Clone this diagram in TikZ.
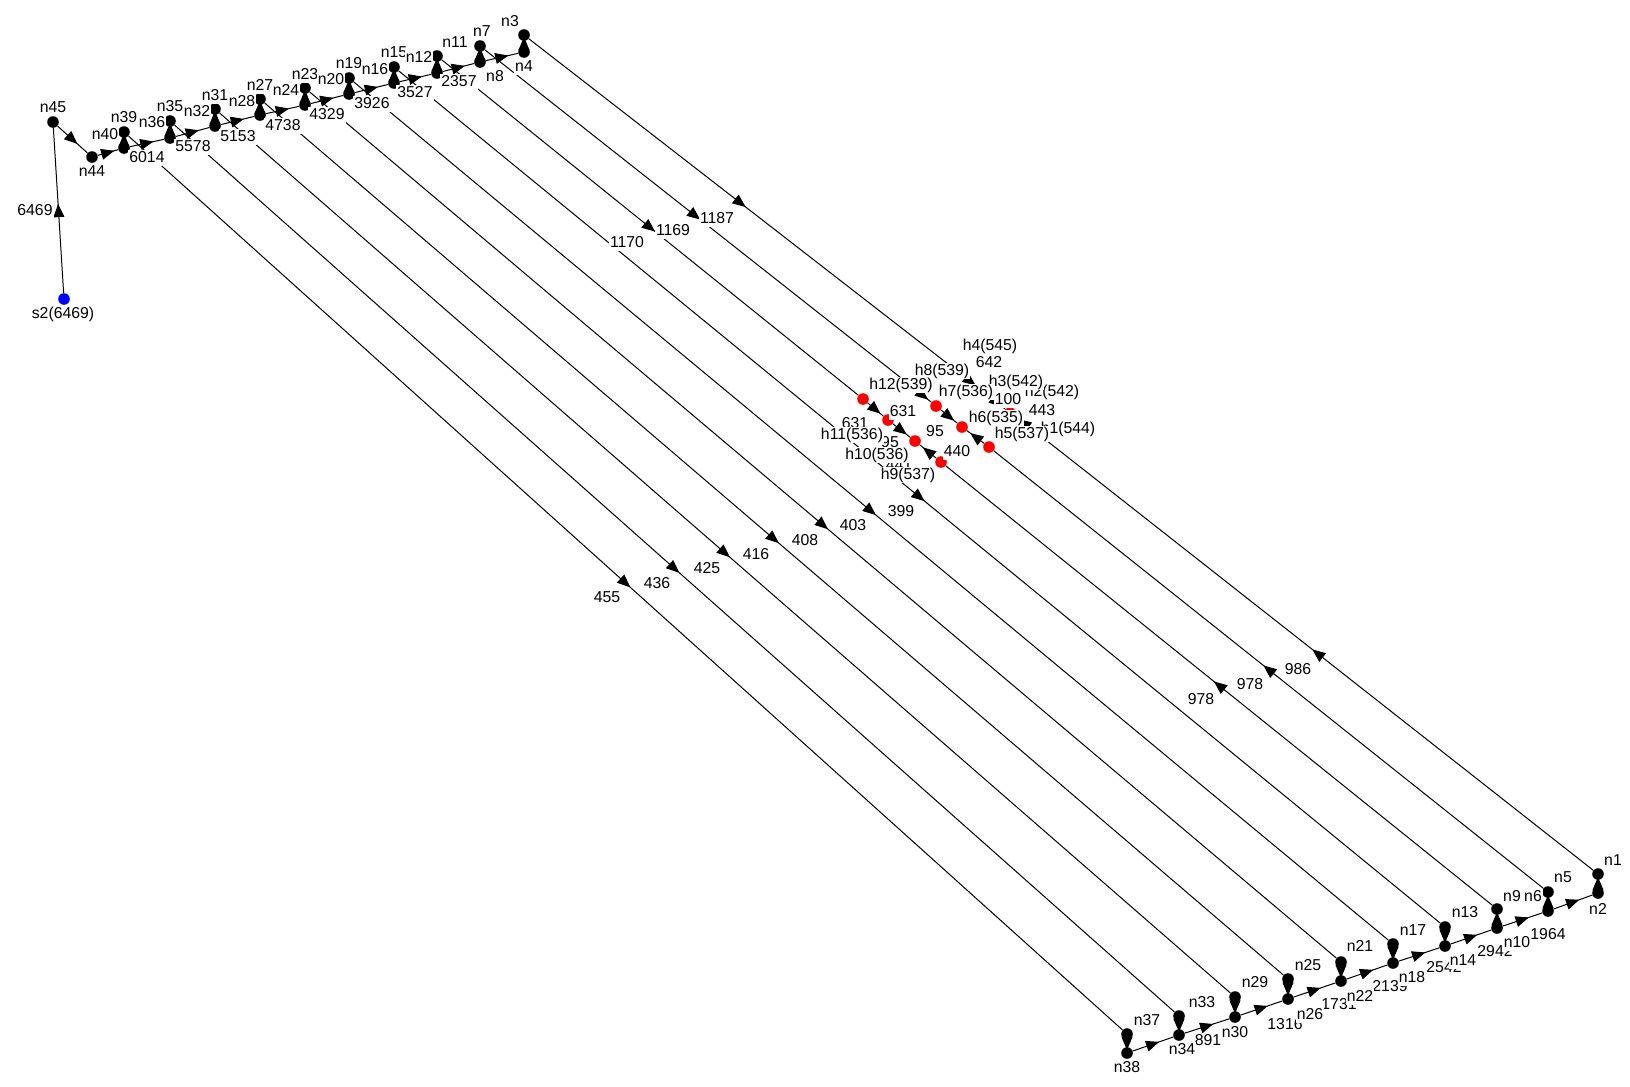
\documentclass[tikz,border=0pt]{standalone}
\usepackage{fontspec}
\setmainfont{Liberation Sans}
\usetikzlibrary{arrows.meta,decorations.markings}

\begin{document}
\begin{tikzpicture}[
    x=0.5pt,
    y=-0.5pt,
    line cap=round,
    line join=round,
    junc/.style={circle, fill=black, inner sep=0pt, minimum size=5.8pt},
    hyd/.style={junc, fill=red},
    src/.style={junc, fill=blue},
    flow/.style={
        line width=0.5pt,
        postaction={decorate},
        decoration={markings,
            mark=at position 0.5 with {\arrow[xshift=3.3pt]{Triangle[length=6.6pt,width=5.4pt]}}}
    },
    ntag/.style={fill=white, inner sep=0.6pt, text height=5.6pt, text depth=1.5pt,
        font=\fontsize{7.9}{9}\selectfont},
    ftag/.style={ntag}
]

\useasboundingbox (0,0) rectangle (1630,1087);

%------------------------------------------------
% Source and upper chain
%------------------------------------------------
\node[src]  (s2)  at (64,299) {};
\node[junc] (n45) at (53,122) {};
\node[junc] (n44) at (92,157) {};

\node[junc] (n40) at (124,148) {};
\node[junc] (n39) at (124,132) {};
\node[junc] (n36) at (170,138) {};
\node[junc] (n35) at (170,121) {};
\node[junc] (n32) at (215,126) {};
\node[junc] (n31) at (215,109) {};
\node[junc] (n28) at (260,115) {};
\node[junc] (n27) at (260,99) {};
\node[junc] (n24) at (305,105) {};
\node[junc] (n23) at (305,88) {};
\node[junc] (n20) at (349,94) {};
\node[junc] (n19) at (349,78) {};
\node[junc] (n16) at (394,83) {};
\node[junc] (n15) at (394,67) {};
\node[junc] (n12) at (437,73) {};
\node[junc] (n11) at (437,56) {};
\node[junc] (n8)  at (480,62) {};
\node[junc] (n7)  at (480,46) {};
\node[junc] (n4)  at (524,52) {};
\node[junc] (n3)  at (524,35) {};

%------------------------------------------------
% Lower chain
%------------------------------------------------
\node[junc] (n38) at (1127,1053) {};
\node[junc] (n37) at (1127,1034) {};
\node[junc] (n34) at (1179,1035) {};
\node[junc] (n33) at (1179,1016) {};
\node[junc] (n30) at (1235,1017) {};
\node[junc] (n29) at (1235,997) {};
\node[junc] (n26) at (1288,999) {};
\node[junc] (n25) at (1288,979) {};
\node[junc] (n22) at (1341,981) {};
\node[junc] (n21) at (1341,962) {};
\node[junc] (n18) at (1393,963) {};
\node[junc] (n17) at (1393,944) {};
\node[junc] (n14) at (1445,946) {};
\node[junc] (n13) at (1445,927) {};
\node[junc] (n10) at (1497,928) {};
\node[junc] (n9)  at (1497,909) {};
\node[junc] (n6)  at (1548,911) {};
\node[junc] (n5)  at (1548,892) {};
\node[junc] (n2)  at (1598,893) {};
\node[junc] (n1)  at (1598,874) {};

%------------------------------------------------
% Hydrants in the middle
%------------------------------------------------
\node[hyd] (h12) at (863,399) {};
\node[hyd] (h11) at (888,420) {};
\node[hyd] (h10) at (915,441) {};
\node[hyd] (h9)  at (941,462) {};
\node[hyd] (h8)  at (910,385) {};
\node[hyd] (h7)  at (936,406) {};
\node[hyd] (h6)  at (962,427) {};
\node[hyd] (h5)  at (989,447) {};
\node[hyd] (h4)  at (957,371) {};
\node[hyd] (h3)  at (984,392) {};
\node[hyd] (h2)  at (1010,413) {};
\node[hyd] (h1)  at (1037,433) {};

%------------------------------------------------
% Upper chain pipes
%------------------------------------------------
\draw[flow] (s2) -- (n45);
\draw[flow] (n45) -- (n44);
\draw[flow] (n44) -- (n40);
\draw[flow] (n40) -- (n36);
\draw[flow] (n36) -- (n32);
\draw[flow] (n32) -- (n28);
\draw[flow] (n28) -- (n24);
\draw[flow] (n24) -- (n20);
\draw[flow] (n20) -- (n16);
\draw[flow] (n16) -- (n12);
\draw[flow] (n12) -- (n8);
\draw[flow] (n8) -- (n4);

\draw[flow] (n40) -- (n39);
\draw[flow] (n36) -- (n35);
\draw[flow] (n32) -- (n31);
\draw[flow] (n28) -- (n27);
\draw[flow] (n24) -- (n23);
\draw[flow] (n20) -- (n19);
\draw[flow] (n16) -- (n15);
\draw[flow] (n12) -- (n11);
\draw[flow] (n8) -- (n7);
\draw[flow] (n4) -- (n3);

%------------------------------------------------
% Long diagonal pipes
%------------------------------------------------
\draw[flow] (n39) -- (n37);
\draw[flow] (n35) -- (n33);
\draw[flow] (n31) -- (n29);
\draw[flow] (n27) -- (n25);
\draw[flow] (n23) -- (n21);
\draw[flow] (n19) -- (n17);
\draw[flow] (n15) -- (n13);

\draw[flow] (n11) -- (h12);
\draw[flow] (n7) -- (h8);
\draw[flow] (n3) -- (h4);

\draw[flow] (n9) -- (h9);
\draw[flow] (n5) -- (h5);
\draw[flow] (n1) -- (h1);

%------------------------------------------------
% Hydrant pipes
%------------------------------------------------
\draw[flow] (h12) -- (h11);
\draw[flow] (h11) -- (h10);
\draw[flow] (h9) -- (h10);
\draw[flow] (h8) -- (h7);
\draw[flow] (h7) -- (h6);
\draw[flow] (h5) -- (h6);
\draw[flow] (h4) -- (h3);
\draw[flow] (h3) -- (h2);
\draw[flow] (h1) -- (h2);

%------------------------------------------------
% Lower chain pipes
%------------------------------------------------
\draw[flow] (n37) -- (n38);
\draw[flow] (n33) -- (n34);
\draw[flow] (n29) -- (n30);
\draw[flow] (n25) -- (n26);
\draw[flow] (n21) -- (n22);
\draw[flow] (n17) -- (n18);
\draw[flow] (n13) -- (n14);
\draw[flow] (n10) -- (n9);
\draw[flow] (n6) -- (n5);
\draw[flow] (n2) -- (n1);

\draw[flow] (n38) -- (n34);
\draw[flow] (n34) -- (n30);
\draw[flow] (n30) -- (n26);
\draw[flow] (n26) -- (n22);
\draw[flow] (n22) -- (n18);
\draw[flow] (n18) -- (n14);
\draw[flow] (n14) -- (n10);
\draw[flow] (n10) -- (n6);
\draw[flow] (n6) -- (n2);

%------------------------------------------------
% Flow values
%------------------------------------------------
\node[ftag] (q1)  at (35,211)  {6469};
\node[ftag] (q2)  at (147,158) {6014};
\node[ftag] (q3)  at (193,147) {5578};
\node[ftag] (q4)  at (238,137) {5153};
\node[ftag] (q5)  at (283,126) {4738};
\node[ftag] (q6)  at (327,115) {4329};
\node[ftag] (q7)  at (372,104) {3926};
\node[ftag] (q8)  at (415,93)  {3527};
\node[ftag] (q9)  at (459,82)  {2357};

\node[ftag] (q10) at (607,598) {455};
\node[ftag] (q11) at (657,584) {436};
\node[ftag] (q12) at (707,569) {425};
\node[ftag] (q13) at (756,555) {416};
\node[ftag] (q14) at (805,541) {408};
\node[ftag] (q15) at (853,526) {403};
\node[ftag] (q16) at (901,512) {399};

\node[ftag] (q17) at (627,243) {1170};
\node[ftag] (q18) at (673,231) {1169};
\node[ftag] (q19) at (717,219) {1187};

\node[ftag] (q20) at (1298,670) {986};
\node[ftag] (q21) at (1250,685) {978};
\node[ftag] (q22) at (1201,700) {978};

\node[ftag] (q23) at (1208,1041) {891};
\node[ftag] (q24) at (1285,1025) {1316};
\node[ftag] (q25) at (1339,1005) {1731};
\node[ftag] (q26) at (1390,987)  {2139};
\node[ftag] (q27) at (1444,968)  {2542};
\node[ftag] (q28) at (1495,952)  {2942};
\node[ftag] (q29) at (1548,935)  {1964};

\node[ftag] (q30) at (855,424) {631};
\node[ftag] (q31) at (890,443) {95};
\node[ftag] (q32) at (899,466) {441};
\node[ftag] (q33) at (903,412) {631};
\node[ftag] (q34) at (935,432) {95};
\node[ftag] (q35) at (957,452) {440};
\node[ftag] (q36) at (989,363) {642};
\node[ftag] (q37) at (1008,400) {100};
\node[ftag] (q38) at (1042,411) {443};

%------------------------------------------------
% Node names
%------------------------------------------------
\node[ntag] (t-s2)  at (63,314)  {s2(6469)};
\node[ntag] (t-n45) at (53,108)  {n45};
\node[ntag] (t-n44) at (92,172)  {n44};
\node[ntag] (t-n39) at (124,118) {n39};
\node[ntag] (t-n40) at (105,135) {n40};
\node[ntag] (t-n35) at (170,107) {n35};
\node[ntag] (t-n36) at (152,123) {n36};
\node[ntag] (t-n31) at (215,96)  {n31};
\node[ntag] (t-n32) at (197,112) {n32};
\node[ntag] (t-n27) at (260,86)  {n27};
\node[ntag] (t-n28) at (242,102) {n28};
\node[ntag] (t-n23) at (305,75)  {n23};
\node[ntag] (t-n24) at (286,91)  {n24};
\node[ntag] (t-n19) at (349,64)  {n19};
\node[ntag] (t-n20) at (331,80)  {n20};
\node[ntag] (t-n15) at (394,53)  {n15};
\node[ntag] (t-n16) at (375,70)  {n16};
\node[ntag] (t-n11) at (455,43)  {n11};
\node[ntag] (t-n12) at (419,58)  {n12};
\node[ntag] (t-n7)  at (482,32)  {n7};
\node[ntag] (t-n8)  at (495,77)  {n8};
\node[ntag] (t-n3)  at (510,22)  {n3};
\node[ntag] (t-n4)  at (524,67)  {n4};

\node[ntag] (t-n37) at (1147,1021) {n37};
\node[ntag] (t-n38) at (1127,1068) {n38};
\node[ntag] (t-n33) at (1202,1003) {n33};
\node[ntag] (t-n34) at (1182,1050) {n34};
\node[ntag] (t-n29) at (1255,983)  {n29};
\node[ntag] (t-n30) at (1235,1033) {n30};
\node[ntag] (t-n25) at (1308,966)  {n25};
\node[ntag] (t-n26) at (1310,1015) {n26};
\node[ntag] (t-n21) at (1360,947)  {n21};
\node[ntag] (t-n22) at (1360,997)  {n22};
\node[ntag] (t-n17) at (1413,931)  {n17};
\node[ntag] (t-n18) at (1412,978)  {n18};
\node[ntag] (t-n13) at (1465,913)  {n13};
\node[ntag] (t-n14) at (1463,961)  {n14};
\node[ntag] (t-n9)  at (1512,897)  {n9};
\node[ntag] (t-n10) at (1517,943)  {n10};
\node[ntag] (t-n5)  at (1563,878)  {n5};
\node[ntag] (t-n6)  at (1533,897)  {n6};
\node[ntag] (t-n1)  at (1613,861)  {n1};
\node[ntag] (t-n2)  at (1598,910)  {n2};

\node[ntag] (t-h1)  at (1068,429) {h1(544)};
\node[ntag] (t-h2)  at (1052,392) {h2(542)};
\node[ntag] (t-h3)  at (1016,382) {h3(542)};
\node[ntag] (t-h4)  at (990,346)  {h4(545)};
\node[ntag] (t-h5)  at (1022,434) {h5(537)};
\node[ntag] (t-h6)  at (996,418)  {h6(535)};
\node[ntag] (t-h7)  at (966,392)  {h7(536)};
\node[ntag] (t-h8)  at (942,371)  {h8(539)};
\node[ntag] (t-h9)  at (908,475)  {h9(537)};
\node[ntag] (t-h10) at (877,455)  {h10(536)};
\node[ntag] (t-h11) at (852,435)  {h11(536)};
\node[ntag] (t-h12) at (901,385)  {h12(539)};

\end{tikzpicture}
\end{document}
